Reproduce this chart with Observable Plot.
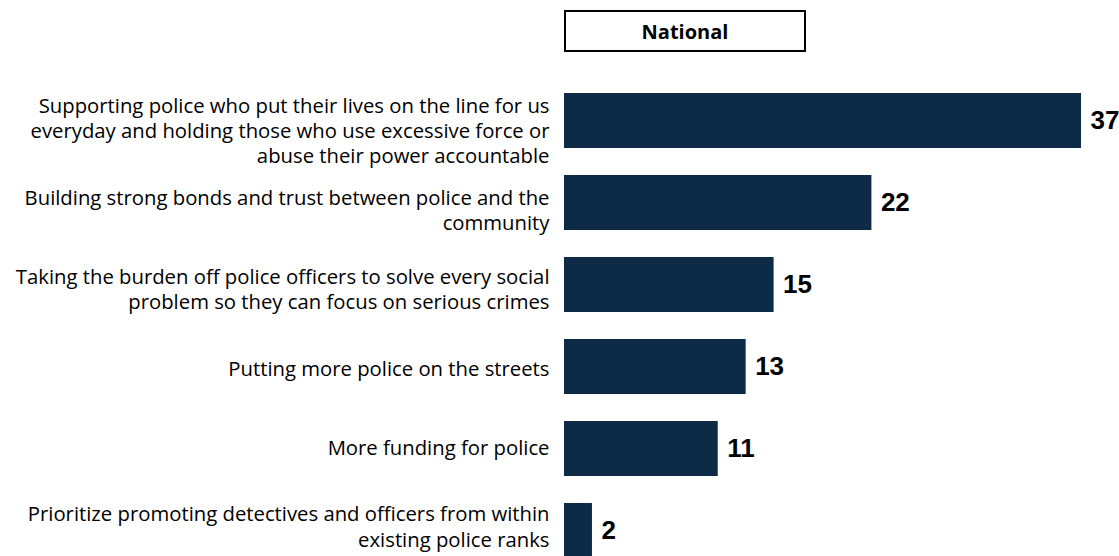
<!DOCTYPE html>
<html>
<head>
<meta charset="utf-8">
<script src="https://cdn.jsdelivr.net/npm/d3@7"></script>
<script src="https://cdn.jsdelivr.net/npm/@observablehq/plot@0.6"></script>
<style>
  html, body { margin: 0; padding: 0; background: #fff; overflow: hidden; }
  #wrap { position: relative; width: 1119px; height: 556px; overflow: hidden; }
  #header { position: absolute; left: 564px; top: 10px; width: 238px; height: 38px;
    border: 2px solid #000; display: flex; align-items: center; justify-content: center;
    font-family: "Open Sans", sans-serif; font-weight: 700; font-size: 20px; color: #000; }
  #chart { position: absolute; left: 0; top: 64px; }
</style>
</head>
<body>
<div id="wrap">
  <div id="header">National</div>
  <div id="chart"></div>
</div>
<script>
const categories = [
  "Supporting police who put their lives on the line for us\neveryday and holding those who use excessive force or\nabuse their power accountable",
  "Building strong bonds and trust between police and the\ncommunity",
  "Taking the burden off police officers to solve every social\nproblem so they can focus on serious crimes",
  "Putting more police on the streets",
  "More funding for police",
  "Prioritize promoting detectives and officers from within\nexisting police ranks"
];
const values = [37, 22, 15, 13, 11, 2];

const data = categories.map((c, i) => ({category: c, value: values[i]}));

// Category labels in the reference sit on a slightly tighter spacing than the bars
function tightenLabels(index, scales, vals, dimensions, context, next) {
  if (!vals.y) return next(index, scales, vals, dimensions, context);
  const y0 = Math.min(...vals.y);
  const y = Float64Array.from(vals.y, (v) => v + 9 - (v - y0) * 0.034);
  return next(index, scales, {...vals, y}, dimensions, context);
}

const chart = Plot.plot({
  width: 1119,
  height: 524,
  marginLeft: 564,
  marginRight: 38,
  marginTop: 0,
  marginBottom: 0,
  x: {domain: [0, 37], axis: null},
  y: {domain: categories, padding: 0.324, axis: null},
  style: {fontFamily: "Open Sans, sans-serif", background: "#fff"},
  marks: [
    Plot.barX(data, {x: "value", y: "category", fill: "#0d2a46"}),
    Plot.text(data, {x: 0, y: "category", text: "category", textAnchor: "end", dx: -15,
      fontSize: 20.3, lineHeight: 1.25, fill: "#000", render: tightenLabels}),
    Plot.text(data, {x: "value", y: "category", text: d => String(d.value), textAnchor: "start", dx: 9,
      fontSize: 26, fontWeight: "bold", fontFamily: "Liberation Sans, Arial, sans-serif", fill: "#000"})
  ]
});
document.getElementById("chart").appendChild(chart);
</script>
</body>
</html>
